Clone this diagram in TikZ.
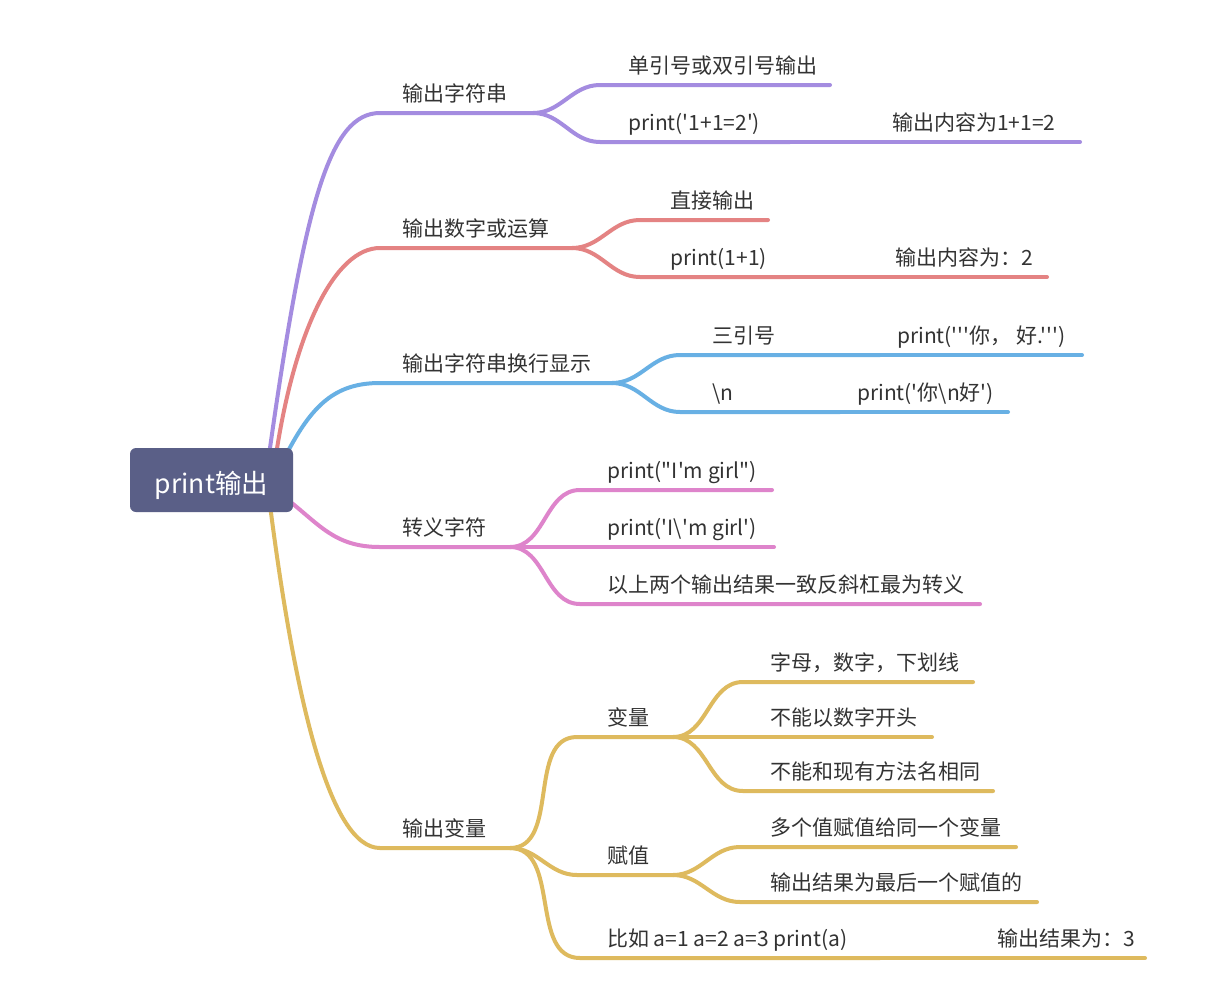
\documentclass[tikz,border=0pt]{standalone}
\usepackage{fontspec}
\setmainfont{Noto Sans CJK SC}[Ligatures=TeXOff]
\definecolor{cpur}{HTML}{A48CE0}
\definecolor{cred}{HTML}{E48383}
\definecolor{cblu}{HTML}{68B0E4}
\definecolor{cpnk}{HTML}{DE84CB}
\definecolor{cyel}{HTML}{DEBA5E}
\definecolor{rootc}{HTML}{5A5F87}
\definecolor{tc}{HTML}{333333}
\pgfdeclarelayer{bg}
\pgfsetlayers{bg,main}
\begin{document}
\begin{tikzpicture}[x=1pt,y=-1pt,
  txt/.style={anchor=base west,inner sep=0pt,text=tc,font=\fontsize{21}{25}\selectfont},
  lnk/.style={line width=4pt,line cap=round,draw=#1},
  rootbox/.style={fill=rootc,rounded corners=6pt,minimum width=163pt,minimum height=64pt,inner sep=0pt,text height=26pt,text depth=0pt,text=white,font=\fontsize{26.5}{31}\selectfont}]
\useasboundingbox (0,0) rectangle (1206,983);
\begin{pgfonlayer}{bg}
\fill[white] (0,0) rectangle (1206,983);
\end{pgfonlayer}

\node[rootbox] (root) at (211.5,480) {print输出};

% texts
\node[txt] (t1) at (402,101) {输出字符串};
\node[txt] (t11) at (628,73) {单引号或双引号输出};
\node[txt] (t12) at (628,130) {print('1+1=2')};
\node[txt] (t121) at (892,130) {输出内容为1+1=2};
\node[txt] (t2) at (402,236) {输出数字或运算};
\node[txt] (t21) at (670,208) {直接输出};
\node[txt] (t22) at (670,265) {print(1+1)};
\node[txt] (t221) at (895,265) {输出内容为：2};
\node[txt] (t3) at (402,371) {输出字符串换行显示};
\node[txt] (t31) at (712,343) {三引号};
\node[txt] (t311) at (897,343) {print('''你， 好.''')};
\node[txt] (t32) at (712,400) {\textbackslash n};
\node[txt] (t321) at (857,400) {print('你\textbackslash n好')};
\node[txt] (t4) at (402,535) {转义字符};
\node[txt] (t41) at (607,478) {print("I'm girl")};
\node[txt] (t42) at (607,535) {print('I\textbackslash 'm girl')};
\node[txt] (t43) at (607,592) {以上两个输出结果一致反斜杠最为转义};
\node[txt] (t5) at (402,836) {输出变量};
\node[txt] (t51) at (607,725) {变量};
\node[txt] (t511) at (770,670) {字母，数字，下划线};
\node[txt] (t512) at (770,725) {不能以数字开头};
\node[txt] (t513) at (770,779) {不能和现有方法名相同};
\node[txt] (t52) at (607,863) {赋值};
\node[txt] (t521) at (770,835) {多个值赋值给同一个变量};
\node[txt] (t522) at (770,890) {输出结果为最后一个赋值的};
\node[txt] (t53) at (607,946) {比如 a=1 a=2 a=3 print(a)};
\node[txt] (t531) at (997,946) {输出结果为：3};

% coordinates
\coordinate (s1) at (269,455); \coordinate (a1) at (380,113); \coordinate (j1) at (533,113);
\coordinate (k11) at (600,85); \coordinate (e11) at (830,85);
\coordinate (k12) at (600,142); \coordinate (e12) at (790,142); \coordinate (e121) at (1080,142);
\coordinate (s2) at (276,455); \coordinate (a2) at (380,248); \coordinate (j2) at (572,248);
\coordinate (k21) at (640,220); \coordinate (e21) at (768,220);
\coordinate (k22) at (640,277); \coordinate (e22) at (790,277); \coordinate (e221) at (1047,277);
\coordinate (s3) at (286,455); \coordinate (a3) at (380,383); \coordinate (j3) at (612,383);
\coordinate (k31) at (680,355); \coordinate (e31) at (880,355); \coordinate (e311) at (1082,355);
\coordinate (k32) at (680,412); \coordinate (e32) at (840,412); \coordinate (e321) at (1008,412);
\coordinate (s4) at (288,500); \coordinate (a4) at (380,547); \coordinate (j4) at (510,547);
\coordinate (k41) at (580,490); \coordinate (e41) at (772,490);
\coordinate (e42) at (774,547);
\coordinate (k43) at (580,604); \coordinate (e43) at (980,604);
\coordinate (s5) at (270,505); \coordinate (a5) at (380,848); \coordinate (j5) at (510,848);
\coordinate (k51) at (577,737); \coordinate (j51) at (673,737);
\coordinate (k511) at (743,682); \coordinate (e511) at (973,682);
\coordinate (e512) at (932,737);
\coordinate (k513) at (743,791); \coordinate (e513) at (993,791);
\coordinate (k52) at (577,875); \coordinate (j52) at (673,875);
\coordinate (k521) at (740,847); \coordinate (e521) at (1016,847);
\coordinate (k522) at (740,902); \coordinate (e522) at (1037,902);
\coordinate (k53) at (580,958); \coordinate (e53) at (880,958); \coordinate (e531) at (1145,958);

\begin{pgfonlayer}{bg}
% branch 1
\draw[lnk=cpur] (s1) .. controls (305,200) and (330,113) .. (a1) -- (j1);
\draw[lnk=cpur] (j1) to[out=0,in=180] (k11) -- (e11);
\draw[lnk=cpur] (j1) to[out=0,in=180] (k12) -- (e12);
\draw[lnk=cpur] (e12) -- (e121);
% branch 2
\draw[lnk=cred] (s2) .. controls (295,330) and (335,248) .. (a2) -- (j2);
\draw[lnk=cred] (j2) to[out=0,in=180] (k21) -- (e21);
\draw[lnk=cred] (j2) to[out=0,in=180] (k22) -- (e22);
\draw[lnk=cred] (e22) -- (e221);
% branch 3
\draw[lnk=cblu] (s3) .. controls (312,405) and (335,383) .. (a3) -- (j3);
\draw[lnk=cblu] (j3) to[out=0,in=180] (k31) -- (e31);
\draw[lnk=cblu] (e31) -- (e311);
\draw[lnk=cblu] (j3) to[out=0,in=180] (k32) -- (e32);
\draw[lnk=cblu] (e32) -- (e321);
% branch 4
\draw[lnk=cpnk] (s4) .. controls (320,525) and (335,547) .. (a4) -- (j4);
\draw[lnk=cpnk] (j4) to[out=0,in=180] (k41) -- (e41);
\draw[lnk=cpnk] (j4) -- (e42);
\draw[lnk=cpnk] (j4) to[out=0,in=180] (k43) -- (e43);
% branch 5
\draw[lnk=cyel] (s5) .. controls (295,700) and (330,848) .. (a5) -- (j5);
\draw[lnk=cyel] (j5) to[out=0,in=180] (k51) -- (j51);
\draw[lnk=cyel] (j51) to[out=0,in=180] (k511) -- (e511);
\draw[lnk=cyel] (j51) -- (e512);
\draw[lnk=cyel] (j51) to[out=0,in=180] (k513) -- (e513);
\draw[lnk=cyel] (j5) to[out=0,in=180] (k52) -- (j52);
\draw[lnk=cyel] (j52) to[out=0,in=180] (k521) -- (e521);
\draw[lnk=cyel] (j52) to[out=0,in=180] (k522) -- (e522);
\draw[lnk=cyel] (j5) to[out=0,in=180] (k53) -- (e53);
\draw[lnk=cyel] (e53) -- (e531);
\end{pgfonlayer}
\end{tikzpicture}
\end{document}
